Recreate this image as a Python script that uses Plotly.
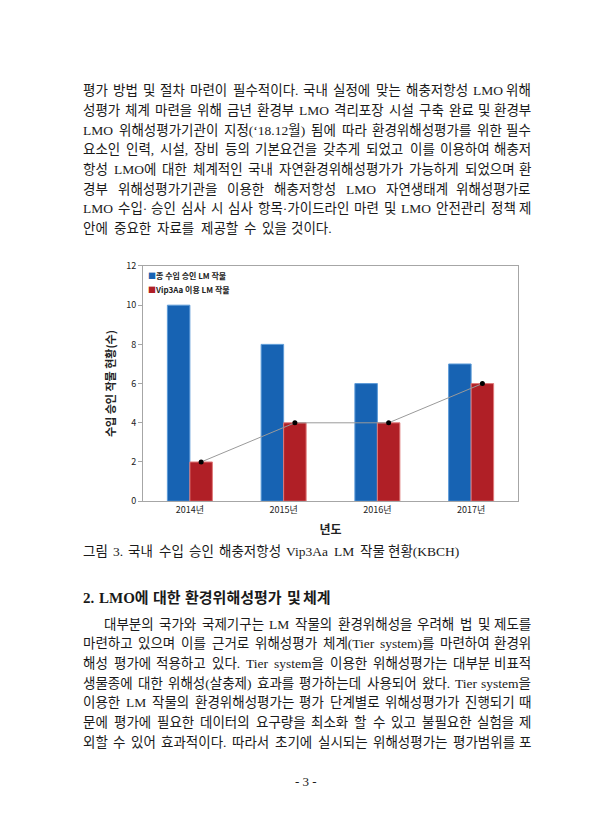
import plotly.graph_objects as go

# chart data
years = ["2014년", "2015년", "2016년", "2017년"]
total_crops = [10, 8, 6, 7]
vip3aa_crops = [2, 4, 4, 6]
y_ticks = [0, 2, 4, 6, 8, 10, 12]
series_names = ["종 수입 승인 LM 작물", "Vip3Aa 이용 LM 작물"]

# page text
para1_lines = [
    "평가 방법 및 절차 마련이 필수적이다. 국내 실정에 맞는 해충저항성 LMO 위해",
    "성평가 체계 마련을 위해 금년 환경부 LMO 격리포장 시설 구축 완료 및 환경부",
    "LMO 위해성평가기관이 지정(‘18.12월) 됨에 따라 환경위해성평가를 위한 필수",
    "요소인 인력, 시설, 장비 등의 기본요건을 갖추게 되었고 이를 이용하여 해충저",
    "항성 LMO에 대한 체계적인 국내 자연환경위해성평가가 가능하게 되었으며 환",
    "경부 위해성평가기관을 이용한 해충저항성 LMO 자연생태계 위해성평가로",
    "LMO 수입· 승인 심사 시 심사 항목·가이드라인 마련 및 LMO 안전관리 정책 제",
    "안에 중요한 자료를 제공할 수 있을 것이다.",
]
caption = "그림 3. 국내 수입 승인 해충저항성 Vip3Aa LM 작물 현황(KBCH)"
heading = "2. LMO에 대한 환경위해성평가 및 체계"
para2_lines = [
    "대부분의 국가와 국제기구는 LM 작물의 환경위해성을 우려해 법 및 제도를",
    "마련하고 있으며 이를 근거로 위해성평가 체계(Tier system)를 마련하여 환경위",
    "해성 평가에 적용하고 있다. Tier system을 이용한 위해성평가는 대부분 비표적",
    "생물종에 대한 위해성(살충제) 효과를 평가하는데 사용되어 왔다. Tier system을",
    "이용한 LM 작물의 환경위해성평가는 평가 단계별로 위해성평가가 진행되기 때",
    "문에 평가에 필요한 데이터의 요구량을 최소화 할 수 있고 불필요한 실험을 제",
    "외할 수 있어 효과적이다. 따라서 초기에 실시되는 위해성평가는 평가범위를 포",
]
page_number = "- 3 -"

# the page has an 8px body margin, so the figure is drawn 16px smaller
PAD = 8
W, H = 612 - 2 * PAD, 840 - 2 * PAD
TEXT_FONT = "Liberation Serif, Noto Sans CJK KR, serif"
CHART_FONT = "Noto Sans CJK KR, Noto Sans, sans-serif"
BLUE, RED = "#1763b3", "#b01f26"
BAR_W = 0.24
HANGUL_EM = 0.92
BODY = 13.5


def px(x):
    return (x - PAD) / W


def py(y):
    return 1 - (y - PAD) / H


# rough Times-like advance widths (em) for latin characters
LATIN_W = {
    " ": 0.25, ".": 0.25, ",": 0.25, "(": 0.333, ")": 0.333, "‘": 0.333, "·": 0.25, "-": 0.333,
    "L": 0.611, "M": 0.889, "O": 0.722, "T": 0.611, "V": 0.722, "A": 0.722, "K": 0.722,
    "B": 0.667, "C": 0.667, "H": 0.722,
    "a": 0.444, "e": 0.444, "i": 0.278, "p": 0.5, "r": 0.333, "s": 0.389, "t": 0.278,
    "y": 0.5, "m": 0.778,
}


def est_width(s, size, bold=False):
    w = 0
    for ch in s:
        if 0xAC00 <= ord(ch) <= 0xD7A3:
            w += HANGUL_EM
        elif ch.isdigit():
            w += 0.5
        else:
            w += LATIN_W.get(ch, 0.5) * (1.05 if bold else 1.0)
    return w * size


def add_line(fig, text, y, x0, x1, size=BODY, bold=False):
    # place words one by one so the line is spread like justified text
    words = text.split(" ")
    fmt = (lambda t: f"<b>{t}</b>") if bold else (lambda t: t)
    font = dict(family=TEXT_FONT, size=size, color="#1a1a1a")
    widths = [est_width(wd, size, bold) for wd in words]
    gap = (x1 - x0 - sum(widths)) / (len(words) - 1)
    x = x0
    for i, wd in enumerate(words):
        last = i == len(words) - 1
        fig.add_annotation(x=px(x1 if last else x), y=py(y), xref="paper", yref="paper",
                           text=fmt(wd), showarrow=False, xanchor="right" if last else "left",
                           yanchor="middle", borderpad=0, font=font)
        x += widths[i] + gap


xs = list(range(len(years)))

fig = go.Figure()

fig.add_trace(go.Bar(
    x=xs, y=total_crops, name=series_names[0],
    width=BAR_W, offset=-BAR_W,
    marker=dict(color=BLUE, line=dict(color="#5d9bd8", width=1))
))
fig.add_trace(go.Bar(
    x=xs, y=vip3aa_crops, name=series_names[1],
    width=BAR_W, offset=0,
    marker=dict(color=RED, line=dict(color="#e07a7a", width=1))
))
fig.add_trace(go.Scatter(
    x=[v + BAR_W / 2 for v in xs], y=vip3aa_crops,
    mode="lines+markers",
    line=dict(color="#9a9a9a", width=1),
    marker=dict(color="black", size=5)
))

fig.update_layout(
    width=W, height=H,
    margin=dict(l=0, r=0, t=0, b=0),
    paper_bgcolor="white", plot_bgcolor="white",
    barmode="overlay", showlegend=False,
    font=dict(family=CHART_FONT, color="#222"),
    xaxis=dict(
        domain=[px(143), px(518)], range=[-0.5, 3.5],
        tickvals=xs, ticktext=years, tickfont=dict(size=9, color="#222"),
        showline=True, linecolor="#a6a6a6", mirror=True, showgrid=False, zeroline=False,
        title=dict(text="<b>년도</b>", font=dict(size=12, color="#222"), standoff=10),
    ),
    yaxis=dict(
        domain=[py(502), py(263)], range=[0, 12],
        tickvals=y_ticks, tickfont=dict(size=9, color="#222"),
        ticks="outside", ticklen=4, tickcolor="#a6a6a6",
        showline=True, linecolor="#a6a6a6", mirror=True, showgrid=False, zeroline=False,
        title=dict(text="<b>수입 승인 작물 현황(수)</b>", font=dict(size=11, color="#222"), standoff=8),
    ),
)

# compact legend inside the plot, top left
for i, (name, col) in enumerate(zip(series_names, [BLUE, RED])):
    fig.add_annotation(x=px(147), y=py(273 + 13.5 * i), xref="paper", yref="paper",
                       text=f"<span style='color:{col}'>■</span><b>{name}</b>",
                       showarrow=False, xanchor="left", yanchor="middle", borderpad=0,
                       font=dict(family=CHART_FONT, size=8, color="#222"))

for i, line in enumerate(para1_lines):
    last = i == len(para1_lines) - 1
    add_line(fig, line, 85 + 20 * i, 82, 333 if last else 532)

add_line(fig, caption, 553, 82, 460)
add_line(fig, heading, 600, 82, 332, size=15, bold=True)

for i, line in enumerate(para2_lines):
    add_line(fig, line, 627 + 20 * i, 103 if i == 0 else 82, 532)

fig.add_annotation(x=px(306), y=py(787), xref="paper", yref="paper",
                   text=page_number, showarrow=False, xanchor="center", yanchor="middle",
                   font=dict(family=TEXT_FONT, size=13, color="#1a1a1a"))

fig.write_html("out.html")
